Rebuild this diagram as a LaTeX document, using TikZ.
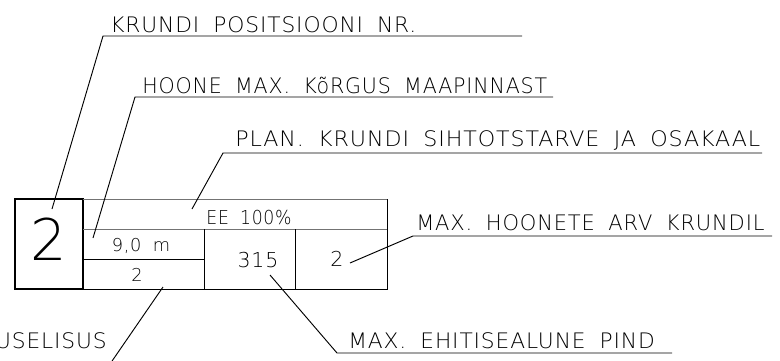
\documentclass[tikz,border=0pt]{standalone}
\usepackage{graphicx}
\usepackage{fontspec}
\newfontfamily\cadfont[LetterSpace=4,WordSpace=1.8]{DejaVu Sans ExtraLight}
\newcommand{\cadlabel}[2]{\scalebox{#1}[1]{#2}}
\begin{document}
\begin{tikzpicture}[x=0.75pt,y=-0.75pt,
  lab/.style={font=\cadfont\fontsize{16}{18}\selectfont, inner sep=0pt, anchor=base west},
  labr/.style={lab, anchor=base east},
  cell/.style={font=\cadfont\fontsize{13.3}{15}\selectfont, inner sep=0pt, anchor=base},
  usecell/.style={font=\cadfont\fontsize{14.4}{16}\selectfont, inner sep=0pt, anchor=base},
  bigcell/.style={font=\cadfont\fontsize{15.4}{17}\selectfont, inner sep=0pt, anchor=base},
  posnum/.style={font=\cadfont\fontsize{43}{45}\selectfont, inner sep=0pt, anchor=base},
  thin/.style={line width=0.75pt, black},
  grayline/.style={line width=0.75pt, black!55},
  thick/.style={line width=1.5pt, black},
  lead/.style={line width=0.7pt, black}
]
\useasboundingbox (0,0) rectangle (780,360);

% table frame
\draw[thick] (15,199) rectangle (83,289);
\draw[grayline] (83,199) -- (387,199);
\draw[grayline] (83,229) -- (387,229);
\draw[thin] (387,199) -- (387,289) -- (83,289);
\draw[thin] (83,259) -- (204,259);
\draw[thin] (204,229) -- (204,289);
\draw[thin] (295,229) -- (295,289);

% cell texts
\node[posnum] (pos) at (49,260) {2};
\node[usecell] (use) at (249,224) {\cadlabel{0.9}{EE 100\%}};
\node[cell] (height) at (141,251) {9,0 m};
\node[cell] (floors) at (137,281) {2};
\node[bigcell] (area) at (258,267) {315};
\node[bigcell] (count) at (337,266) {2};

% labels
\node[lab] (l1) at (110,33) {\cadlabel{1.02}{KRUNDI POSITSIOONI NR.}};
\node[lab] (l2) at (142,93) {\cadlabel{0.965}{HOONE MAX. KõRGUS MAAPINNAST}};
\node[lab] (l3) at (235,146) {\cadlabel{1.04}{PLAN. KRUNDI SIHTOTSTARVE JA OSAKAAL}};
\node[lab] (l4) at (416,230) {\cadlabel{0.985}{MAX. HOONETE ARV KRUNDIL}};
\node[lab] (l5) at (348,348) {\cadlabel{1.02}{MAX. EHITISEALUNE PIND}};
\node[labr] (l6) at (107,348) {\cadlabel{1.02}{KORRUSELISUS}};

% leader coordinates
\coordinate (a1) at (52,209);  \coordinate (b1) at (103,36);  \coordinate (c1) at (522,36);
\coordinate (a2) at (93,238);  \coordinate (b2) at (135,97);  \coordinate (c2) at (553,97);
\coordinate (a3) at (192,209); \coordinate (b3) at (223,153); \coordinate (c3) at (762,153);
\coordinate (a4) at (350,263); \coordinate (b4) at (413,236); \coordinate (c4) at (772,236);
\coordinate (a5) at (270,275); \coordinate (b5) at (337,353); \coordinate (c5) at (672,353);
\coordinate (a6) at (163,287); \coordinate (b6) at (110,364);

\draw[lead] (a1) -- (b1) -- (c1);
\draw[lead] (a2) -- (b2) -- (c2);
\draw[lead] (a3) -- (b3) -- (c3);
\draw[lead] (a4) -- (b4) -- (c4);
\draw[lead] (a5) -- (b5) -- (c5);
\draw[lead] (a6) -- (b6);
\end{tikzpicture}
\end{document}
